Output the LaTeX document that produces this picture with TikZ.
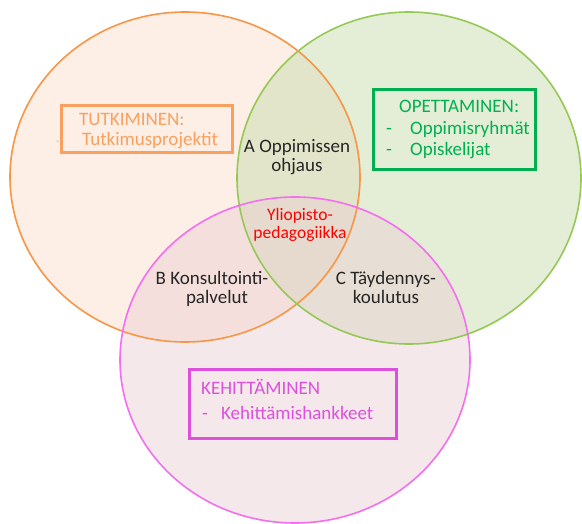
\documentclass[tikz,border=0pt]{standalone}
\usepackage{fontspec}
\setmainfont{Carlito}
\usepackage{xcolor}
\usetikzlibrary{positioning}
\definecolor{orangeline}{RGB}{247,150,70}
\definecolor{greenline}{RGB}{150,200,85}
\definecolor{pinkline}{RGB}{245,110,240}
\definecolor{orangefill}{RGB}{251,223,203}
\definecolor{greenfill}{RGB}{201,219,173}
\definecolor{pinkfill}{RGB}{235,209,213}
\definecolor{orangetext}{RGB}{249,160,95}
\definecolor{greentext}{RGB}{0,176,80}
\definecolor{pinktext}{RGB}{220,80,220}

\begin{document}
\begin{tikzpicture}[x=1pt,y=-1pt,
    setline/.style={line width=1.6pt},
    areabox/.style={draw, line width=3pt, rectangle, inner sep=0pt},
    lbl/.style={font=\fontsize{19}{20}\selectfont, text=black!85, anchor=base, inner sep=0pt},
    boxtxt/.style={font=\fontsize{19}{20}\selectfont, anchor=base west, inner sep=0pt}]
\useasboundingbox (0,0) rectangle (582,524);
% the three sets
\fill[orangefill, fill opacity=0.5] (185,177) ellipse [x radius=175pt, y radius=165pt];
\fill[greenfill, fill opacity=0.5] (409,178) ellipse [x radius=172pt, y radius=166pt];
\fill[pinkfill, fill opacity=0.5] (295,360) ellipse [x radius=175pt, y radius=163pt];
\draw[setline, orangeline] (185,177) ellipse [x radius=175pt, y radius=165pt];
\draw[setline, greenline] (409,178) ellipse [x radius=172pt, y radius=166pt];
\draw[setline, pinkline] (295,360) ellipse [x radius=175pt, y radius=163pt];

% boxes
\node[areabox, orangetext, minimum width=171pt, minimum height=47pt] (tutk) at (146.5,129.5) {};
\node[boxtxt, orangetext] (tutk1) at (79,126) {TUTKIMINEN:};
\node[boxtxt, orangetext] (tutk2) at (82,146) {Tutkimusprojektit};
\node[boxtxt, orangetext, font=\fontsize{10}{12}\selectfont] (tutkd) at (56,145) {-};

\node[areabox, greentext, minimum width=162pt, minimum height=80pt] (opet) at (454,130) {};
\node[boxtxt, greentext] (opet1) at (399,113) {OPETTAMINEN:};
\node[boxtxt, greentext] (opet2) at (386,135) {-};
\node[boxtxt, greentext] (opet3) at (410,135) {Oppimisryhmät};
\node[boxtxt, greentext] (opet4) at (386,156) {-};
\node[boxtxt, greentext] (opet5) at (410,156) {Opiskelijat};

\node[areabox, pinktext, minimum width=207pt, minimum height=68pt] (kehi) at (292.5,404) {};
\node[boxtxt, pinktext] (kehi1) at (201,394) {KEHITTÄMINEN};
\node[boxtxt, pinktext] (kehi2) at (202,419) {-};
\node[boxtxt, pinktext] (kehi3) at (221,419) {Kehittämishankkeet};

% intersections
\node[lbl] (ohj1) at (297,153) {A Oppimissen};
\node[lbl] (ohj2) at (297,172) {ohjaus};
\node[lbl] (kons1) at (212,285) {B Konsultointi-};
\node[lbl] (kons2) at (217,304) {palvelut};
\node[lbl] (tayd1) at (386,285) {C Täydennys-};
\node[lbl] (tayd2) at (386,304) {koulutus};
\node[lbl, text=red, font=\fontsize{17.5}{19}\selectfont] (yped1) at (300,221) {Yliopisto-};
\node[lbl, text=red, font=\fontsize{17.5}{19}\selectfont] (yped2) at (300,239) {pedagogiikka};
\end{tikzpicture}
\end{document}
